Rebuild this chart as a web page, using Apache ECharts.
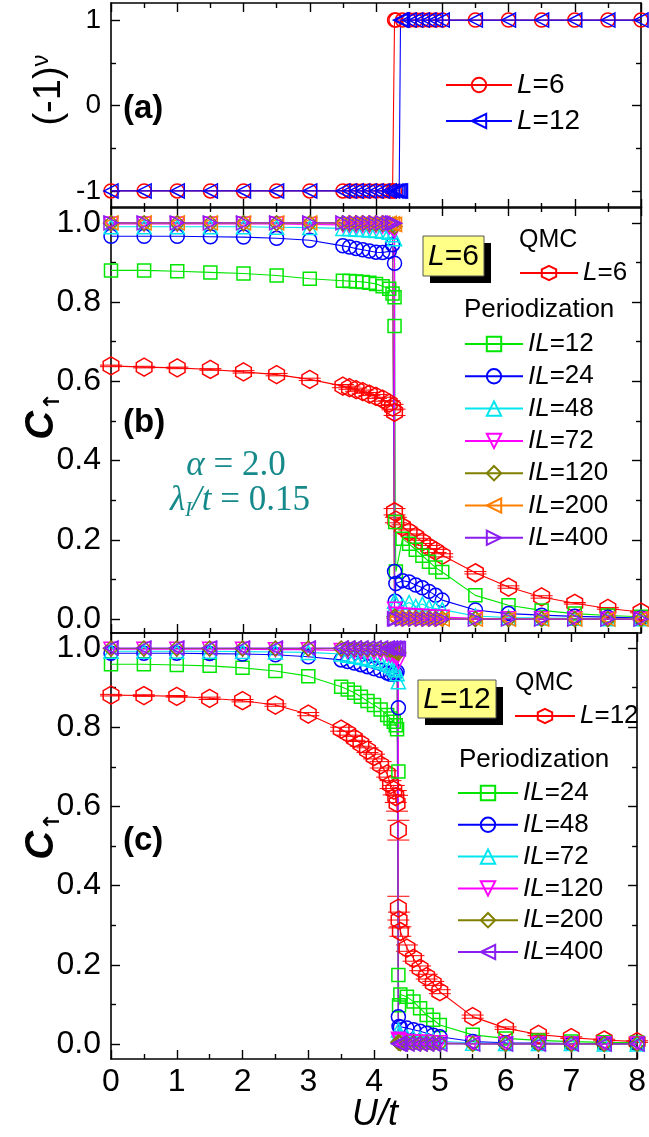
<!DOCTYPE html>
<html><head><meta charset="utf-8">
<script src="https://cdn.jsdelivr.net/npm/echarts@6/dist/echarts.min.js"></script>
<style>html,body{margin:0;padding:0;background:#fff}#c{width:649px;height:1137px}</style>
</head><body><div id="c"></div><script>
// ---------- data ----------
const xTicks = [0, 1, 2, 3, 4, 5, 6, 7, 8];
const yTicksA = [-1, 0, 1];
const yMinorA = [-0.5, 0.5];
const yTicksBC = [0, 0.2, 0.4, 0.6, 0.8, 1.0];
const yMinorBC = [0.1, 0.3, 0.5, 0.7, 0.9];

// U/t grids (L=6 transition ~4.28, L=12 transition ~4.37)
const uPreL6 = [0, 0.5, 1, 1.5, 2, 2.5, 3, 3.5, 3.6, 3.7, 3.8, 3.9, 4.0, 4.1, 4.2, 4.25, 4.28];
const uPostL6 = [4.28, 4.3, 4.4, 4.5, 4.6, 4.7, 4.8, 4.9, 5.0, 5.5, 6, 6.5, 7, 7.5, 8];
const uPostL6x = [4.28, 4.29, 4.3, 4.4, 4.5, 4.6, 4.7, 4.8, 4.9, 5.0, 5.5, 6, 6.5, 7, 7.5, 8];
const uPreL12 = [0, 0.5, 1, 1.5, 2, 2.5, 3, 3.5, 3.6, 3.7, 3.8, 3.9, 4.0, 4.1, 4.2, 4.25, 4.3, 4.33, 4.35, 4.37];
const uPostL12 = [4.37, 4.38, 4.4, 4.5, 4.6, 4.7, 4.8, 4.9, 5.0, 5.5, 6, 6.5, 7, 7.5, 8];

// panel (a): (-1)^nu
const parL6Pre = [-1, -1, -1, -1, -1, -1, -1, -1, -1, -1, -1, -1, -1, -1, -1, -1, -1];
const parL6Post = [1, 1, 1, 1, 1, 1, 1, 1, 1, 1, 1, 1, 1, 1, 1];
const parL12Pre = [-1, -1, -1, -1, -1, -1, -1, -1, -1, -1, -1, -1, -1, -1, -1, -1, -1, -1, -1, -1];
const parL12Post = [1, 1, 1, 1, 1, 1, 1, 1, 1, 1, 1, 1, 1, 1, 1];

// panel (b): L=6
const qmc6Pre = [0.639, 0.636, 0.634, 0.630, 0.624, 0.617, 0.605, 0.588, 0.584, 0.579, 0.574, 0.568, 0.562, 0.555, 0.545, 0.535, 0.522];
const qmc6Post = [0.271, 0.250, 0.233, 0.220, 0.208, 0.195, 0.182, 0.172, 0.161, 0.117, 0.081, 0.056, 0.040, 0.027, 0.018];
const qmc6ErrPre = [0.002, 0.002, 0.002, 0.002, 0.003, 0.003, 0.003, 0.004, 0.004, 0.004, 0.004, 0.004, 0.005, 0.005, 0.006, 0.007, 0.008];
const qmc6ErrPost = [0.008, 0.007, 0.005, 0.005, 0.004, 0.004, 0.004, 0.004, 0.004, 0.003, 0.003, 0.003, 0.002, 0.002, 0.002];
const b12Pre = [0.880, 0.880, 0.878, 0.875, 0.872, 0.867, 0.859, 0.854, 0.853, 0.852, 0.851, 0.849, 0.846, 0.840, 0.834, 0.822, 0.812];
const b12Post = [0.740, 0.245, 0.120, 0.203, 0.190, 0.175, 0.160, 0.145, 0.130, 0.119, 0.060, 0.035, 0.022, 0.014, 0.009, 0.006];
const b24Pre = [0.966, 0.966, 0.966, 0.965, 0.964, 0.961, 0.956, 0.942, 0.939, 0.935, 0.932, 0.929, 0.926, 0.925, 0.928, 0.945, 0.898];
const b24Post = [0.120, 0.045, 0.090, 0.097, 0.094, 0.086, 0.079, 0.070, 0.060, 0.048, 0.023, 0.014, 0.010, 0.007, 0.005, 0.003];
const b48Pre = [0.990, 0.990, 0.990, 0.990, 0.990, 0.989, 0.988, 0.986, 0.985, 0.984, 0.983, 0.982, 0.981, 0.979, 0.976, 0.970, 0.960];
const b48Post = [0.045, 0.040, 0.034, 0.042, 0.032, 0.038, 0.030, 0.027, 0.024, 0.008, 0.004, 0.003, 0.002, 0.001, 0.001];
const b72Pre = [0.997, 0.997, 0.997, 0.997, 0.997, 0.997, 0.996, 0.995, 0.995, 0.994, 0.994, 0.993, 0.993, 0.992, 0.990, 0.986, 0.980];
const b72Post = [0.025, 0.012, 0.010, 0.009, 0.008, 0.007, 0.006, 0.005, 0.005, 0.002, 0.001, 0.001, 0.001, 0.000, 0.000];
const b120Pre = [0.999, 0.999, 0.999, 0.999, 0.999, 0.999, 0.999, 0.999, 0.999, 0.999, 0.999, 0.998, 0.998, 0.998, 0.997, 0.995, 0.991];
const b120Post = [0.006, 0.004, 0.003, 0.003, 0.002, 0.002, 0.002, 0.001, 0.001, 0.000, 0.000, 0.000, 0.000, 0.000, 0.000];
const b200Pre = [1.000, 1.000, 1.000, 1.000, 1.000, 1.000, 1.000, 1.000, 1.000, 1.000, 1.000, 1.000, 1.000, 0.999, 0.999, 0.998, 0.996];
const b200Post = [0.002, 0.001, 0.001, 0.001, 0.001, 0.000, 0.000, 0.000, 0.000, 0.000, 0.000, 0.000, 0.000, 0.000, 0.000];
const b400Pre = [1.000, 1.000, 1.000, 1.000, 1.000, 1.000, 1.000, 1.000, 1.000, 1.000, 1.000, 1.000, 1.000, 1.000, 1.000, 1.000, 0.999];
const b400Post = [0.001, 0.000, 0.000, 0.000, 0.000, 0.000, 0.000, 0.000, 0.000, 0.000, 0.000, 0.000, 0.000, 0.000, 0.000];

// panel (c): L=12
const qmc12Pre = [0.881, 0.880, 0.878, 0.873, 0.867, 0.856, 0.833, 0.795, 0.785, 0.772, 0.758, 0.742, 0.726, 0.705, 0.682, 0.655, 0.641, 0.625, 0.608, 0.540];
const qmc12Post = [0.343, 0.313, 0.284, 0.242, 0.216, 0.191, 0.170, 0.153, 0.132, 0.069, 0.040, 0.024, 0.016, 0.010, 0.006];
const qmc12ErrPre = [0.002, 0.002, 0.002, 0.003, 0.003, 0.003, 0.004, 0.005, 0.005, 0.005, 0.006, 0.006, 0.006, 0.008, 0.008, 0.010, 0.012, 0.015, 0.020, 0.025];
const qmc12ErrPost = [0.030, 0.020, 0.012, 0.008, 0.007, 0.006, 0.006, 0.005, 0.005, 0.004, 0.003, 0.003, 0.002, 0.002, 0.002];
const c24Pre = [0.959, 0.959, 0.957, 0.955, 0.950, 0.942, 0.929, 0.902, 0.895, 0.887, 0.877, 0.866, 0.856, 0.845, 0.831, 0.822, 0.814, 0.805, 0.795, 0.688];
const c24Post = [0.174, 0.098, 0.125, 0.119, 0.107, 0.090, 0.073, 0.061, 0.048, 0.023, 0.014, 0.009, 0.006, 0.004, 0.003];
const c48Pre = [0.987, 0.987, 0.987, 0.986, 0.985, 0.983, 0.978, 0.970, 0.966, 0.962, 0.958, 0.953, 0.948, 0.943, 0.937, 0.934, 0.933, 0.936, 0.940, 0.849];
const c48Post = [0.069, 0.044, 0.042, 0.040, 0.036, 0.032, 0.027, 0.022, 0.018, 0.006, 0.003, 0.002, 0.001, 0.001, 0.001];
const c72Pre = [0.992, 0.992, 0.992, 0.992, 0.991, 0.990, 0.989, 0.985, 0.982, 0.979, 0.976, 0.973, 0.969, 0.965, 0.960, 0.955, 0.950, 0.945, 0.935, 0.915];
const c72Post = [0.035, 0.025, 0.020, 0.018, 0.015, 0.013, 0.011, 0.009, 0.007, 0.002, 0.001, 0.001, 0.001, 0.000, 0.000];
const c120Pre = [0.997, 0.997, 0.997, 0.997, 0.997, 0.996, 0.996, 0.994, 0.993, 0.992, 0.991, 0.990, 0.989, 0.987, 0.985, 0.983, 0.981, 0.978, 0.975, 0.965];
const c120Post = [0.012, 0.008, 0.007, 0.006, 0.005, 0.004, 0.004, 0.003, 0.003, 0.001, 0.000, 0.000, 0.000, 0.000, 0.000];
const c200Pre = [0.999, 0.999, 0.999, 0.999, 0.999, 0.999, 0.999, 0.999, 0.999, 0.999, 0.999, 0.998, 0.998, 0.998, 0.997, 0.996, 0.995, 0.993, 0.991, 0.988];
const c200Post = [0.004, 0.003, 0.002, 0.002, 0.002, 0.001, 0.001, 0.001, 0.001, 0.000, 0.000, 0.000, 0.000, 0.000, 0.000];
const c400Pre = [1.000, 1.000, 1.000, 1.000, 1.000, 1.000, 1.000, 1.000, 1.000, 1.000, 1.000, 1.000, 1.000, 1.000, 1.000, 1.000, 1.000, 0.999, 0.999, 0.998];
const c400Post = [0.001, 0.000, 0.000, 0.000, 0.000, 0.000, 0.000, 0.000, 0.000, 0.000, 0.000, 0.000, 0.000, 0.000, 0.000];

// ---------- helpers ----------
const SANS = 'Liberation Sans, Arial, sans-serif';
const SERIF = 'Liberation Serif, Times New Roman, serif';
const BLACK = '#000';
const TEAL = '#168a8a';
const HEX = 'path://M0,-10L8.66,-5L8.66,5L0,10L-8.66,5L-8.66,-5Z';
const COL = {red:'#ff0000', green:'#00e600', blue:'#0000ff', cyan:'#00e5ee', mag:'#ff00ff', olive:'#808000', orange:'#ff8000', purple:'#8a1ef0'};
const SYM = {
  hex:{symbol:HEX, size:18, rot:0},
  sq:{symbol:'rect', size:13, rot:0},
  ci:{symbol:'circle', size:14, rot:0},
  up:{symbol:'triangle', size:14, rot:0},
  down:{symbol:'triangle', size:14, rot:180},
  dia:{symbol:'diamond', size:15, rot:0},
  left:{symbol:'triangle', size:14, rot:90},
  right:{symbol:'triangle', size:14, rot:-90}
};
function pts(xs, ys){ return xs.map((x,i)=>[x, ys[i]]); }
function errPts(xs, ys, es){ return xs.map((x,i)=>[x, ys[i], es[i]]); }

function lineSeries(name, g, data, col, sym){
  const s = SYM[sym];
  return {type:'line', name, xAxisIndex:2*g, yAxisIndex:4*g, data,
    symbol:s.symbol, symbolSize:s.size, symbolRotate:s.rot, symbolKeepAspect:true,
    showAllSymbol:true, animation:false, silent:true, emphasis:{disabled:true},
    lineStyle:{color:col, width:1.1},
    itemStyle:{color:'rgba(255,255,255,0)', borderColor:col, borderWidth:1.5}};
}
function errSeries(g, data){
  return {type:'custom', xAxisIndex:2*g, yAxisIndex:4*g, data, silent:true, animation:false,
    encode:{x:0, y:1},
    renderItem:(p, api)=>{
      const x = api.value(0), y = api.value(1), e = api.value(2);
      const hi = api.coord([x, y+e]), lo = api.coord([x, y-e]);
      const w = 11, st = {stroke:COL.red, lineWidth:1};
      return {type:'group', children:[
        {type:'line', shape:{x1:hi[0], y1:hi[1], x2:lo[0], y2:lo[1]}, style:st},
        {type:'line', shape:{x1:hi[0]-w, y1:hi[1], x2:hi[0]+w, y2:hi[1]}, style:st},
        {type:'line', shape:{x1:lo[0]-w, y1:lo[1], x2:lo[0]+w, y2:lo[1]}, style:st}
      ]};
    }};
}
const axLine = {onZero:false, lineStyle:{color:BLACK, width:1.6}};
const tickStyle = {color:BLACK, width:1.4};
function xAxes(g, showLabels){
  const base = {type:'value', gridIndex:g, min:0, max:8, interval:1, splitLine:{show:false},
    axisLine:axLine, axisTick:{inside:true, length:9, lineStyle:tickStyle},
    minorTick:{show:true, splitNumber:2, length:5, lineStyle:tickStyle}};
  return [
    Object.assign({}, base, {position:'bottom',
      axisLabel:{show:showLabels, fontSize:32, color:BLACK, margin:7, fontFamily:SANS,
        customValues:xTicks, formatter:v=>String(v)}}),
    Object.assign({}, base, {position:'top', axisLabel:{show:false}})
  ];
}
function yAxes(g, min, max, majors, minors, fmt, fs){
  const base = {type:'value', gridIndex:g, min, max, splitLine:{show:false}};
  const maj = {inside:true, length:9, customValues:majors, lineStyle:tickStyle};
  const mnr = {inside:true, length:5, customValues:minors, lineStyle:tickStyle};
  return [
    Object.assign({}, base, {position:'left', axisLine:axLine, axisTick:maj,
      axisLabel:{customValues:majors, formatter:fmt, fontSize:fs, color:BLACK, margin:10, fontFamily:SANS}}),
    Object.assign({}, base, {position:'right', axisLine:axLine, axisTick:maj, axisLabel:{show:false}}),
    Object.assign({}, base, {position:'left', axisLine:{show:false, onZero:false}, axisTick:mnr, axisLabel:{show:false}}),
    Object.assign({}, base, {position:'right', axisLine:{show:false, onZero:false}, axisTick:mnr, axisLabel:{show:false}})
  ];
}

const LABELS = {
  L6a:'{i|L}=6', L12a:'{i|L}=12', qmc6:'{i|L}=6', qmc12:'{i|L}=12',
  b12:'{i|IL}=12', b24:'{i|IL}=24', b48:'{i|IL}=48', b72:'{i|IL}=72', b120:'{i|IL}=120', b200:'{i|IL}=200', b400:'{i|IL}=400',
  c24:'{i|IL}=24', c48:'{i|IL}=48', c72:'{i|IL}=72', c120:'{i|IL}=120', c200:'{i|IL}=200', c400:'{i|IL}=400'
};
function legend(names, left, top, iw, fs, gap){
  return {data:names, left, top, orient:'vertical', padding:0, itemWidth:iw, itemHeight:18, itemGap:gap,
    selectedMode:false, formatter:n=>LABELS[n],
    textStyle:{fontSize:fs, lineHeight:fs, color:BLACK, fontFamily:SANS,
      rich:{i:{fontStyle:'italic', fontSize:fs, lineHeight:fs, fontFamily:SANS, color:BLACK}}}};
}

const series = [
  // (a)
  lineSeries('L6a', 0, pts(uPreL6, parL6Pre).concat(pts(uPostL6, parL6Post)), COL.red, 'ci'),
  lineSeries('L12a', 0, pts(uPreL12, parL12Pre).concat(pts(uPostL12, parL12Post)), COL.blue, 'left'),
  // (b)
  lineSeries('qmc6', 1, pts(uPreL6, qmc6Pre).concat(pts(uPostL6, qmc6Post)), COL.red, 'hex'),
  errSeries(1, errPts(uPreL6, qmc6Pre, qmc6ErrPre).concat(errPts(uPostL6, qmc6Post, qmc6ErrPost))),
  lineSeries('b12', 1, pts(uPreL6, b12Pre).concat(pts(uPostL6x, b12Post)), COL.green, 'sq'),
  lineSeries('b24', 1, pts(uPreL6, b24Pre).concat(pts(uPostL6x, b24Post)), COL.blue, 'ci'),
  lineSeries('b48', 1, pts(uPreL6, b48Pre).concat(pts(uPostL6, b48Post)), COL.cyan, 'up'),
  lineSeries('b72', 1, pts(uPreL6, b72Pre).concat(pts(uPostL6, b72Post)), COL.mag, 'down'),
  lineSeries('b120', 1, pts(uPreL6, b120Pre).concat(pts(uPostL6, b120Post)), COL.olive, 'dia'),
  lineSeries('b200', 1, pts(uPreL6, b200Pre).concat(pts(uPostL6, b200Post)), COL.orange, 'left'),
  lineSeries('b400', 1, pts(uPreL6, b400Pre).concat(pts(uPostL6, b400Post)), COL.purple, 'right'),
  // (c)
  lineSeries('qmc12', 2, pts(uPreL12, qmc12Pre).concat(pts(uPostL12, qmc12Post)), COL.red, 'hex'),
  errSeries(2, errPts(uPreL12, qmc12Pre, qmc12ErrPre).concat(errPts(uPostL12, qmc12Post, qmc12ErrPost))),
  lineSeries('c24', 2, pts(uPreL12, c24Pre).concat(pts(uPostL12, c24Post)), COL.green, 'sq'),
  lineSeries('c48', 2, pts(uPreL12, c48Pre).concat(pts(uPostL12, c48Post)), COL.blue, 'ci'),
  lineSeries('c72', 2, pts(uPreL12, c72Pre).concat(pts(uPostL12, c72Post)), COL.cyan, 'up'),
  lineSeries('c120', 2, pts(uPreL12, c120Pre).concat(pts(uPostL12, c120Post)), COL.mag, 'down'),
  lineSeries('c200', 2, pts(uPreL12, c200Pre).concat(pts(uPostL12, c200Post)), COL.olive, 'dia'),
  lineSeries('c400', 2, pts(uPreL12, c400Pre).concat(pts(uPostL12, c400Post)), COL.purple, 'left')
];

function txt(x, y, text, fs, opts){
  return {type:'text', x, y, silent:true, z:100, rotation:(opts&&opts.rot)||0,
    style:Object.assign({text, fontSize:fs, fontFamily:SANS, fill:BLACK,
      align:(opts&&opts.align)||'left', verticalAlign:'middle'}, (opts&&opts.style)||{})};
}
function boxLabel(x, y, w, h, text){
  return [
    {type:'rect', z:90, silent:true, shape:{x:x+7, y:y+7, width:w, height:h}, style:{fill:'#000'}},
    {type:'rect', z:91, silent:true, shape:{x, y, width:w, height:h}, style:{fill:'#ffff88', stroke:'#555', lineWidth:1}},
    txt(x+w/2, y+h/2+1, text, 30, {align:'center', style:{rich:{i:{fontStyle:'italic', fontSize:30, fontFamily:SANS}}}})
  ];
}
const cLabelStyle = {rich:{
  c:{fontSize:40, fontWeight:'bold', fontStyle:'italic', fontFamily:SANS, lineHeight:44},
  s:{fontSize:22, fontWeight:'bold', verticalAlign:'bottom', lineHeight:40, fontFamily:'DejaVu Sans, sans-serif'}}};

const graphics = [
  txt(123, 109, '(a)', 33, {style:{fontWeight:'bold'}}),
  txt(123, 423, '(b)', 33, {style:{fontWeight:'bold'}}),
  txt(123, 841, '(c)', 33, {style:{fontWeight:'bold'}}),
  txt(50, 90, '(-1){s|ν}', 38, {align:'center', rot:Math.PI/2,
    style:{lineHeight:42, rich:{s:{fontSize:24, verticalAlign:'top', lineHeight:42, fontFamily:SANS}}}}),
  txt(42, 416, '{c|C}{s|↑}', 40, {align:'center', rot:Math.PI/2, style:cLabelStyle}),
  txt(42, 836, '{c|C}{s|↑}', 40, {align:'center', rot:Math.PI/2, style:cLabelStyle}),
  txt(375, 1115, 'U/t', 36, {align:'center', style:{fontStyle:'italic'}}),
  txt(519, 240, 'QMC', 25),
  txt(464, 310, 'Periodization', 26),
  txt(515, 683, 'QMC', 25),
  txt(459, 760, 'Periodization', 26),
  txt(236, 466, '{i|α} = 2.0', 35, {align:'center', style:{fontFamily:SERIF, fill:TEAL,
    rich:{i:{fontStyle:'italic', fontFamily:SERIF, fontSize:35, fill:TEAL}}}}),
  txt(240, 501, '{i|λ}{s|I}{i|/t} = 0.15', 35, {align:'center', style:{fontFamily:SERIF, fill:TEAL, lineHeight:40,
    rich:{i:{fontStyle:'italic', fontFamily:SERIF, fontSize:35, fill:TEAL, lineHeight:40},
          s:{fontStyle:'italic', fontFamily:SERIF, fontSize:21, fill:TEAL, verticalAlign:'bottom', lineHeight:40}}}})
].concat(boxLabel(423, 236, 61, 40, '{i|L}=6'), boxLabel(418, 680, 78, 38, '{i|L}=12'));

const option = {
  animation:false,
  backgroundColor:'#fff',
  grid:[
    {left:111, right:8, top:3, height:205},
    {left:111, right:8, top:207, height:426},
    {left:111, right:8, top:633, height:426}
  ],
  xAxis:[].concat(xAxes(0,false), xAxes(1,false), xAxes(2,true)),
  yAxis:[].concat(
    yAxes(0, -1.2, 1.2, yTicksA, yMinorA, v=>String(Math.round(v)), 28),
    yAxes(1, -0.035, 1.04, yTicksBC, yMinorBC, v=>v.toFixed(1), 32),
    yAxes(2, -0.038, 1.038, yTicksBC, yMinorBC, v=>v.toFixed(1), 32)),
  legend:[
    legend(['L6a','L12a'], 445, 71, 66, 28, 8),
    legend(['qmc6'], 519, 260, 58, 26, 6),
    legend(['b12','b24','b48','b72','b120','b200','b400'], 464, 331, 58, 26, 6.3),
    legend(['qmc12'], 514, 703, 60, 26, 6),
    legend(['c24','c48','c72','c120','c200','c400'], 457, 780, 60, 26, 5.8)
  ],
  graphic:graphics,
  series
};
const chart = echarts.init(document.getElementById('c'), null, {renderer:'canvas'});
chart.setOption(option);
</script></body></html>
